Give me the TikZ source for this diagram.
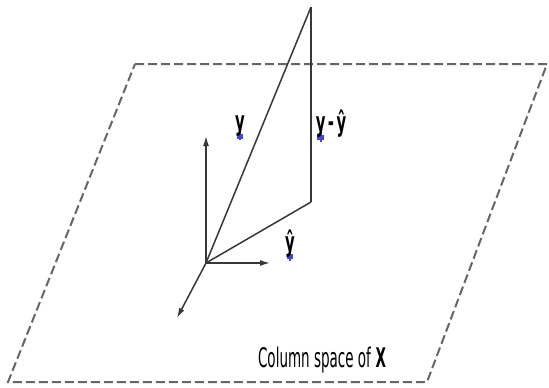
\documentclass[tikz,border=0pt]{standalone}
\usepackage{fontspec}
\usepackage{graphicx}
\setmainfont{DejaVu Sans}
\usetikzlibrary{arrows.meta}
\definecolor{vblue}{RGB}{70,70,210}
\definecolor{lgray}{gray}{0.4}
\definecolor{dgray}{gray}{0.22}
\newcommand\ulb[1]{\leavevmode\rlap{\hspace{0.1em}\raisebox{-0.55ex}{\color{vblue}\rule{0.45em}{0.18em}}}\rlap{\hspace{0.26em}\raisebox{-0.65ex}{\color{vblue}\rule{0.14em}{0.55em}}}#1}
\newcommand\lab[1]{\scalebox{0.5}[1]{\fontsize{27}{29}\selectfont #1}}
\newcommand\vlab[1]{\scalebox{0.55}[1]{\fontsize{27}{29}\selectfont\bfseries #1}}
\tikzset{
  plane/.style={draw=lgray, line width=2pt, dash pattern=on 9pt off 4pt},
  seg/.style={draw=dgray, line width=1.5pt},
  axis/.style={draw=dgray, line width=1.5pt, -{Latex[length=10pt,width=6pt]}},
  txt/.style={inner sep=0pt, text=black}
}
\begin{document}
\begin{tikzpicture}[x=1pt,y=-1pt]
\path[use as bounding box, fill=white] (0,0) rectangle (549,388);
% plane
\coordinate (A) at (135,64);
\coordinate (B) at (547,64);
\coordinate (C) at (427,382);
\coordinate (D) at (8,382);
\draw[plane] (A) -- (B) -- (C) -- (D) -- cycle;
% points
\coordinate (O) at (206,263);
\coordinate (T) at (311,7);
\coordinate (F) at (311,202);
\coordinate (U) at (206,136);
\coordinate (R) at (270,263);
\coordinate (L) at (177,318);
% triangle
\draw[seg] (O) -- (T);
\draw[seg] (T) -- (F);
\draw[seg] (F) -- (O);
% axes
\draw[axis] (O) -- (U);
\draw[axis] (O) -- (R);
\draw[axis] (O) -- (L);
% labels
\node[txt] (ly) at (240,128) {\vlab{\ulb{y}}};
\node[txt] (lr) at (331,126) {\vlab{\ulb{y}\,-\,ŷ}};
\node[txt] (lh) at (290,245) {\vlab{\ulb{ŷ}}};
\node[txt] (lc) at (322,360) {\lab{Column space of \textbf{X}}};
\end{tikzpicture}
\end{document}
